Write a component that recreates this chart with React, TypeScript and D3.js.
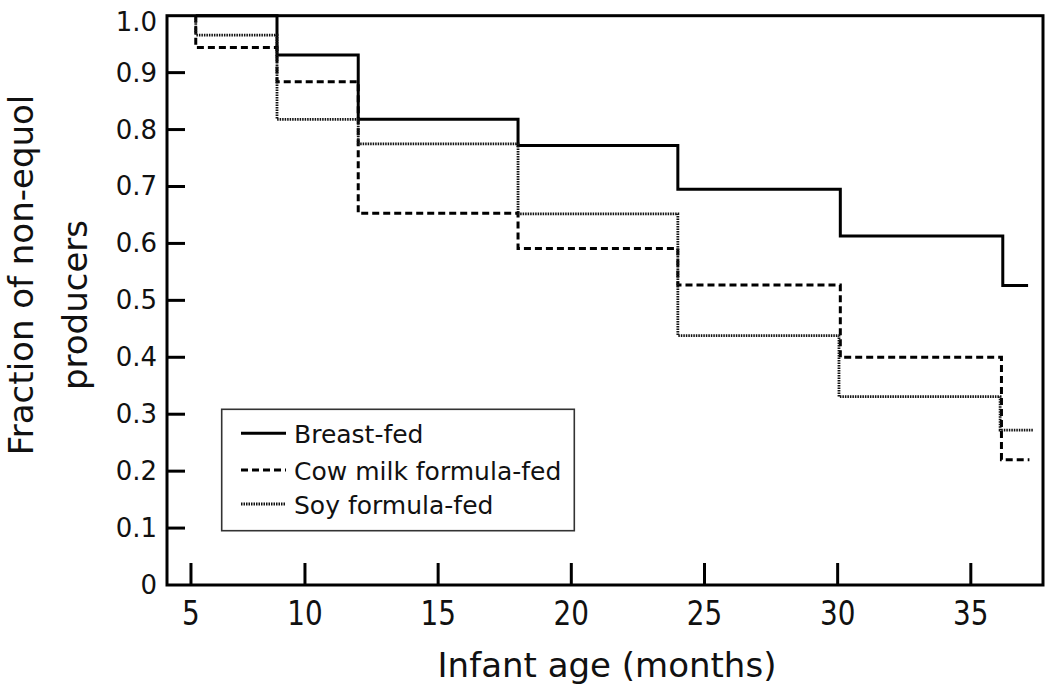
import * as d3 from "d3";

// survival-style step data (age in months, fraction)
const breastAge = [5.9, 8.95, 12, 18, 24, 30.1, 36.2, 37.15];
const breastFrac = [1.0, 0.931, 0.818, 0.772, 0.695, 0.613, 0.526, 0.526];

const cowAge = [5.9, 5.9, 8.95, 12, 18, 24, 30.1, 36.15, 37.2];
const cowFrac = [1.0, 0.944, 0.884, 0.653, 0.591, 0.527, 0.4, 0.22, 0.22];

const soyAge = [5.9, 5.9, 8.95, 12, 18, 24, 30.05, 36.1, 37.35];
const soyFrac = [1.0, 0.966, 0.818, 0.775, 0.652, 0.438, 0.331, 0.272, 0.272];

const seriesNames = ["Breast-fed", "Cow milk formula-fed", "Soy formula-fed"];

const xTickPos = [5.72, 10, 15, 20, 25, 30, 35];
const xTickLabels = ["5", "10", "15", "20", "25", "30", "35"];
const yTickVals = [0, 0.1, 0.2, 0.3, 0.4, 0.5, 0.6, 0.7, 0.8, 0.9, 1.0];
const yTickLabels = ["0", "0.1", "0.2", "0.3", "0.4", "0.5", "0.6", "0.7", "0.8", "0.9", "1.0"];

const width = 1050;
const height = 690;
const left = 167;
const right = 1043;
const top = 15.7;
const bottom = 585;
const font = "'DejaVu Sans', Verdana, sans-serif";

const styles = [
  { dash: "none", w: 3, color: "#000" },
  { dash: "7,4", w: 3, color: "#000" },
  { dash: "1.5,1", w: 2.8, color: "#111" },
];

export default function App() {
  const x = d3.scaleLinear().domain([4.82, 37.71]).range([left, right]);
  const y = d3.scaleLinear().domain([0, 1]).range([bottom, top]);

  const line = d3
    .line<[number, number]>()
    .x((d) => x(d[0]))
    .y((d) => y(d[1]))
    .curve(d3.curveStepAfter);

  const series = [
    d3.zip(breastAge, breastFrac) as [number, number][],
    d3.zip(cowAge, cowFrac) as [number, number][],
    d3.zip(soyAge, soyFrac) as [number, number][],
  ];

  const legendRows = [433.3, 470, 504];

  return (
    <svg
      width={width}
      height={height}
      style={{ position: "absolute", left: 0, top: 0, background: "#fff" }}
      fontFamily={font}
    >
      {/* data */}
      {series.map((s, i) => (
        <path
          key={i}
          d={line(s) || ""}
          fill="none"
          stroke={styles[i].color}
          strokeWidth={styles[i].w}
          strokeDasharray={styles[i].dash}
        />
      ))}

      {/* frame */}
      <rect
        x={left}
        y={top}
        width={right - left}
        height={bottom - top}
        fill="none"
        stroke="#000"
        strokeWidth={3}
      />

      {/* y ticks */}
      {yTickVals.map((v, i) => (
        <g key={i}>
          {v > 0 && v < 1 && (
            <line x1={left} x2={left + 18} y1={y(v)} y2={y(v)} stroke="#000" strokeWidth={3} />
          )}
          <text
            x={157}
            y={Math.max(y(v), 21.5)}
            textAnchor="end"
            dominantBaseline="central"
            fontSize={26}
            fill="#111"
          >
            {yTickLabels[i]}
          </text>
        </g>
      ))}

      {/* x ticks */}
      {xTickPos.map((v, i) => (
        <g key={i}>
          <line x1={x(v)} x2={x(v)} y1={bottom} y2={bottom - 22} stroke="#000" strokeWidth={3} />
          <text
            transform={`translate(${x(v)},625) scale(0.82,1)`}
            textAnchor="middle"
            fontSize={34}
            fill="#111"
          >
            {xTickLabels[i]}
          </text>
        </g>
      ))}

      {/* axis titles */}
      <text x={607} y={677} textAnchor="middle" fontSize={34} fill="#111">
        Infant age (months)
      </text>
      <text transform="translate(33,275) rotate(-90)" textAnchor="middle" fontSize={34} fill="#111">
        Fraction of non-equol
      </text>
      <text transform="translate(87,305) rotate(-90)" textAnchor="middle" fontSize={34} fill="#111">
        producers
      </text>

      {/* legend */}
      <rect x={221.7} y={409.3} width={352.6} height={121.4} fill="#fff" stroke="#333" strokeWidth={1.6} />
      {seriesNames.map((name, i) => (
        <g key={name}>
          <line
            x1={241}
            x2={286}
            y1={legendRows[i]}
            y2={legendRows[i]}
            stroke={styles[i].color}
            strokeWidth={styles[i].w}
            strokeDasharray={styles[i].dash}
          />
          <text x={294} y={legendRows[i] + 9.5} fontSize={25} fill="#111">
            {name}
          </text>
        </g>
      ))}
    </svg>
  );
}
